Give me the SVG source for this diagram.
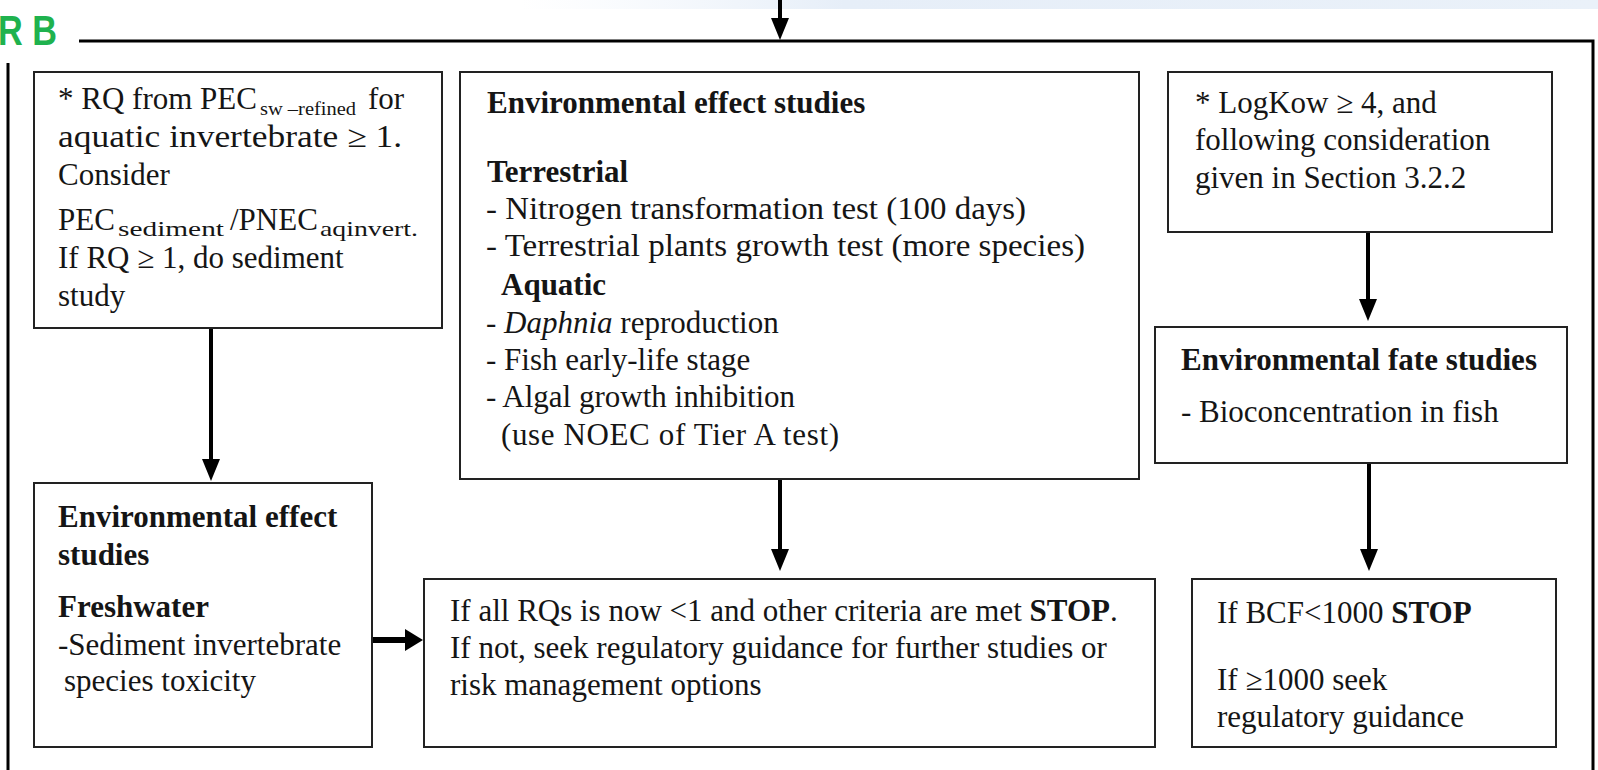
<svg xmlns="http://www.w3.org/2000/svg" width="1598" height="770" viewBox="0 0 1598 770">
<style>
.box{fill:#fff;stroke:#222;stroke-width:2}
.frame{fill:none;stroke:#000;stroke-width:3}
.t{font-family:"Liberation Serif","Times New Roman",serif;font-size:31px;fill:#151515}
.b{font-weight:bold}
.i{font-style:italic}
.sub{font-family:"Liberation Serif","Times New Roman",serif;font-size:21px;fill:#151515}
.sub2{font-family:"Liberation Serif","Times New Roman",serif;font-size:18px;fill:#151515}
.conn{stroke:#000;stroke-width:4;fill:none}
.conn2{stroke:#000;stroke-width:6;fill:none}
</style>
<defs>
<linearGradient id="band" x1="0" y1="0" x2="1" y2="0">
<stop offset="0" stop-color="#eef4fb" stop-opacity="0"/>
<stop offset="0.3" stop-color="#e6eef8"/>
<stop offset="1" stop-color="#eaf1f9"/>
</linearGradient>
<marker id="ah" markerUnits="userSpaceOnUse" markerWidth="24" markerHeight="20" refX="2" refY="9" orient="auto">
<path d="M0,0 L22,9 L0,18 z" fill="#000"/>
</marker>
<marker id="ah2" markerUnits="userSpaceOnUse" markerWidth="22" markerHeight="24" refX="2" refY="11" orient="auto">
<path d="M0,0 L18,11 L0,22 z" fill="#000"/>
</marker>
</defs>
<rect width="1598" height="770" fill="#fff"/>
<rect x="520" y="0" width="1078" height="9" fill="url(#band)"/>

<text x="-2" y="45" font-family="'Liberation Sans',Arial,sans-serif" font-weight="bold" font-size="43" fill="#1fb24e" textLength="59" lengthAdjust="spacingAndGlyphs">R B</text>

<g id="frame">
<path class="frame" d="M79,41 H1593 V770"/>
<path class="frame" d="M8,63 V770"/>
</g>

<g id="connectors">
<line class="conn" x1="780" y1="0" x2="780" y2="20" marker-end="url(#ah)"/>
<line class="conn" x1="211" y1="329" x2="211" y2="461" marker-end="url(#ah)"/>
<line class="conn" x1="780" y1="480" x2="780" y2="551" marker-end="url(#ah)"/>
<line class="conn" x1="1368" y1="233" x2="1368" y2="301" marker-end="url(#ah)"/>
<line class="conn" x1="1369" y1="464" x2="1369" y2="551" marker-end="url(#ah)"/>
<line class="conn2" x1="372" y1="640" x2="407" y2="640" marker-end="url(#ah2)"/>
</g>

<g id="node-rq">
<rect class="box" x="34" y="72" width="408" height="256"/>
<text class="t" x="58" y="109">* RQ from PEC</text>
<text class="sub2" x="260" y="115" textLength="96" lengthAdjust="spacingAndGlyphs">sw –refined</text>
<text class="t" x="368" y="109">for</text>
<text class="t" x="58" y="147" textLength="344" lengthAdjust="spacingAndGlyphs">aquatic invertebrate ≥ 1.</text>
<text class="t" x="58" y="185">Consider</text>
<text class="t" x="58" y="230">PEC</text>
<text class="sub" x="118" y="236" textLength="106" lengthAdjust="spacingAndGlyphs">sediment</text>
<text class="t" x="230" y="230">/PNEC</text>
<text class="sub" x="320" y="236" textLength="98" lengthAdjust="spacingAndGlyphs">aqinvert.</text>
<text class="t" x="58" y="268">If RQ ≥ 1, do sediment</text>
<text class="t" x="58" y="306">study</text>
</g>

<g id="node-effect">
<rect class="box" x="460" y="72" width="679" height="407"/>
<text class="t b" x="487" y="113">Environmental effect studies</text>
<text class="t b" x="487" y="182">Terrestrial</text>
<text class="t" x="486" y="219" textLength="540" lengthAdjust="spacingAndGlyphs">- Nitrogen transformation test (100 days)</text>
<text class="t" x="486" y="256" textLength="599" lengthAdjust="spacingAndGlyphs">- Terrestrial plants growth test (more species)</text>
<text class="t b" x="501" y="295">Aquatic</text>
<text class="t" x="486" y="333">- <tspan class="i">Daphnia</tspan> reproduction</text>
<text class="t" x="486" y="370">- Fish early-life stage</text>
<text class="t" x="486" y="407">- Algal growth inhibition</text>
<text class="t" x="501" y="445" textLength="338" lengthAdjust="spacing">(use NOEC of Tier A  test)</text>
</g>

<g id="node-logkow">
<rect class="box" x="1168" y="72" width="384" height="160"/>
<text class="t" x="1195" y="113">* LogKow ≥ 4, and</text>
<text class="t" x="1195" y="150">following consideration</text>
<text class="t" x="1195" y="188">given in Section 3.2.2</text>
</g>

<g id="node-fate">
<rect class="box" x="1155" y="327" width="412" height="136"/>
<text class="t b" x="1181" y="370">Environmental fate studies</text>
<text class="t" x="1181" y="422">- Bioconcentration in fish</text>
</g>

<g id="node-freshwater">
<rect class="box" x="34" y="483" width="338" height="264"/>
<text class="t b" x="58" y="527">Environmental effect</text>
<text class="t b" x="58" y="565">studies</text>
<text class="t b" x="58" y="617">Freshwater</text>
<text class="t" x="58" y="655">-Sediment invertebrate</text>
<text class="t" x="64" y="691">species toxicity</text>
</g>

<g id="node-stop">
<rect class="box" x="424" y="579" width="731" height="168"/>
<text class="t" x="450" y="621">If all RQs is now &lt;1 and other criteria are met <tspan class="b">STOP</tspan>.</text>
<text class="t" x="450" y="658">If not, seek regulatory guidance for further studies or</text>
<text class="t" x="450" y="695">risk management options</text>
</g>

<g id="node-bcf">
<rect class="box" x="1192" y="579" width="364" height="168"/>
<text class="t" x="1217" y="623">If BCF&lt;1000 <tspan class="b">STOP</tspan></text>
<text class="t" x="1217" y="690">If ≥1000 seek</text>
<text class="t" x="1217" y="727">regulatory guidance</text>
</g>
</svg>
